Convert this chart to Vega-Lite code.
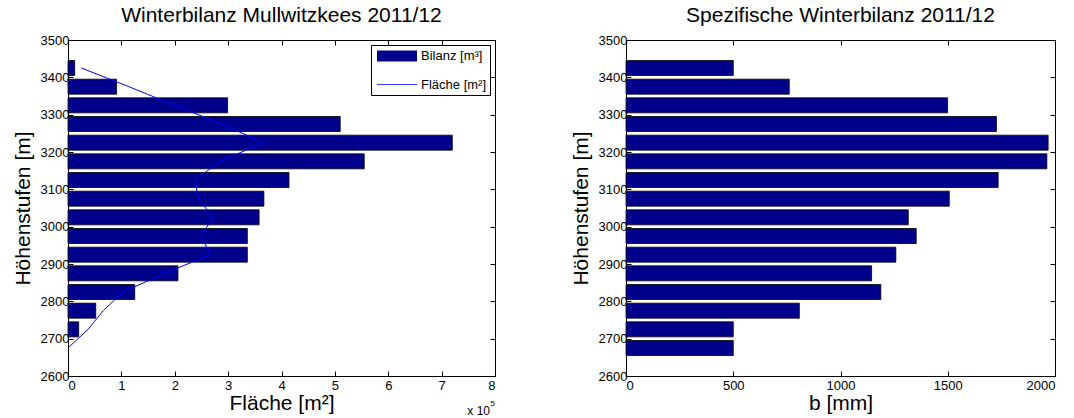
{
  "$schema": "https://vega.github.io/schema/vega-lite/v6.json",
  "padding": {"left": 12, "top": 5, "right": 0, "bottom": 0},
  "background": "white",
  "datasets": {
    "main": [
      {"elev": 2675, "bilanz": null, "flaeche": 0, "b": 500},
      {"elev": 2725, "bilanz": 20000, "flaeche": 37500, "b": 500},
      {"elev": 2775, "bilanz": 52000, "flaeche": 66000, "b": 808},
      {"elev": 2825, "bilanz": 125000, "flaeche": 103000, "b": 1188},
      {"elev": 2875, "bilanz": 206000, "flaeche": 181000, "b": 1145},
      {"elev": 2925, "bilanz": 336000, "flaeche": 267000, "b": 1258},
      {"elev": 2975, "bilanz": 336000, "flaeche": 249000, "b": 1353},
      {"elev": 3025, "bilanz": 358000, "flaeche": 272000, "b": 1316},
      {"elev": 3075, "bilanz": 367000, "flaeche": 244000, "b": 1507},
      {"elev": 3125, "bilanz": 414000, "flaeche": 238000, "b": 1735},
      {"elev": 3175, "bilanz": 555000, "flaeche": 285000, "b": 1962},
      {"elev": 3225, "bilanz": 720000, "flaeche": 366000, "b": 1968},
      {"elev": 3275, "bilanz": 510000, "flaeche": 288000, "b": 1727},
      {"elev": 3325, "bilanz": 299000, "flaeche": 200000, "b": 1499},
      {"elev": 3375, "bilanz": 91000, "flaeche": 114000, "b": 761},
      {"elev": 3425, "bilanz": 12500, "flaeche": 25000, "b": 500}
    ],
    "note": [{"base": "x 10", "exp": "5"}],
    "series": [{"series": "Bilanz [m³]"}, {"series": "Fläche [m²]"}]
  },
  "spacing": 131,
  "bounds": "flush",
  "resolve": {"scale": {"color": "independent", "strokeWidth": "independent"}, "legend": {"color": "independent", "strokeWidth": "independent"}},
  "hconcat": [
    {
      "width": 427,
      "height": 336,
      "title": {"text": "Winterbilanz Mullwitzkees 2011/12", "anchor": "middle", "frame": "group"},
      "resolve": {"axis": {"x": "independent", "y": "independent"}},
      "layer": [
        {
          "data": {"name": "main"},
          "mark": {"type": "bar", "orient": "horizontal", "height": 15, "stroke": "black", "strokeWidth": 0.8, "fill": "#00008b"},
          "encoding": {
            "x": {"field": "bilanz", "type": "quantitative",
              "scale": {"domain": [0, 800000], "nice": false, "padding": 0},
              "axis": {"title": "Fläche [m²]", "values": [0, 100000, 200000, 300000, 400000, 500000, 600000, 700000, 800000], "labelExpr": "format(datum.value/100000, 'd')"}},
            "y": {"field": "elev", "type": "quantitative",
              "scale": {"domain": [2600, 3500], "nice": false, "zero": false, "padding": 0},
              "axis": {"title": "Höhenstufen [m]", "values": [2600, 2700, 2800, 2900, 3000, 3100, 3200, 3300, 3400, 3500], "format": "d"}}
          }
        },
        {
          "data": {"name": "main"},
          "mark": {"type": "line", "strokeWidth": 1, "stroke": "#0000ff"},
          "encoding": {
            "x": {"field": "flaeche", "type": "quantitative", "axis": null},
            "y": {"field": "elev", "type": "quantitative", "axis": null},
            "order": {"field": "elev"}
          }
        },
        {
          "data": {"name": "series"},
          "mark": {"type": "line"},
          "encoding": {
            "x": {"field": "nx", "type": "quantitative", "axis": null},
            "y": {"field": "ny", "type": "quantitative", "axis": null},
            "color": {"field": "series", "type": "ordinal",
              "scale": {"domain": ["Bilanz [m³]", "Fläche [m²]"], "range": ["#00008b", "#3b3bff"]},
              "legend": {
                "orient": "top-right", "title": null, "offset": 5,
                "strokeColor": "black", "fillColor": "white", "padding": 3,
                "labelFontSize": 13, "symbolSize": 25, "rowPadding": -12, "labelOffset": 31,
                "symbolType": "M-2,0H14"
              }},
            "strokeWidth": {"field": "series", "type": "ordinal",
              "scale": {"domain": ["Bilanz [m³]", "Fläche [m²]"], "range": [11, 1]},
              "legend": {
                "orient": "top-right", "title": null, "offset": 5,
                "strokeColor": "black", "fillColor": "white", "padding": 3,
                "labelFontSize": 13, "symbolSize": 25, "rowPadding": -12, "labelOffset": 31,
                "symbolType": "M-2,0H14"
              }}
          }
        },
        {
          "data": {"name": "main"},
          "mark": {"type": "point", "opacity": 0},
          "encoding": {
            "x": {"field": "bilanz", "type": "quantitative", "axis": {"orient": "top", "labels": false, "title": null, "values": [0, 100000, 200000, 300000, 400000, 500000, 600000, 700000, 800000]}},
            "y": {"field": "elev", "type": "quantitative", "axis": {"orient": "right", "labels": false, "title": null, "values": [2600, 2700, 2800, 2900, 3000, 3100, 3200, 3300, 3400, 3500]}}
          }
        },
        {
          "data": {"name": "note"},
          "mark": {"type": "text", "align": "right", "baseline": "middle", "dx": -5, "dy": 35, "fontSize": 12, "color": "black"},
          "encoding": {
            "x": {"datum": 800000, "type": "quantitative", "axis": null},
            "y": {"datum": 2600, "type": "quantitative", "axis": null},
            "text": {"field": "base"}
          }
        },
        {
          "data": {"name": "note"},
          "mark": {"type": "text", "align": "right", "baseline": "middle", "dx": 0, "dy": 28, "fontSize": 8, "color": "black"},
          "encoding": {
            "x": {"datum": 800000, "type": "quantitative", "axis": null},
            "y": {"datum": 2600, "type": "quantitative", "axis": null},
            "text": {"field": "exp"}
          }
        }
      ]
    },
    {
      "width": 429,
      "height": 336,
      "title": {"text": "Spezifische Winterbilanz 2011/12", "anchor": "middle", "frame": "group"},
      "data": {"name": "main"},
      "resolve": {"axis": {"x": "independent", "y": "independent"}},
      "layer": [
        {
          "mark": {"type": "bar", "orient": "horizontal", "height": 15, "stroke": "black", "strokeWidth": 0.8, "fill": "#00008b"},
          "encoding": {
            "x": {"field": "b", "type": "quantitative",
              "scale": {"domain": [0, 2000], "nice": false, "padding": 0},
              "axis": {"title": "b [mm]", "values": [0, 500, 1000, 1500, 2000], "format": "d"}},
            "y": {"field": "elev", "type": "quantitative",
              "scale": {"domain": [2600, 3500], "nice": false, "zero": false, "padding": 0},
              "axis": {"title": "Höhenstufen [m]", "values": [2600, 2700, 2800, 2900, 3000, 3100, 3200, 3300, 3400, 3500], "format": "d"}}
          }
        },
        {
          "mark": {"type": "point", "opacity": 0},
          "encoding": {
            "x": {"field": "b", "type": "quantitative", "axis": {"orient": "top", "labels": false, "title": null, "values": [0, 500, 1000, 1500, 2000]}},
            "y": {"field": "elev", "type": "quantitative", "axis": {"orient": "right", "labels": false, "title": null, "values": [2600, 2700, 2800, 2900, 3000, 3100, 3200, 3300, 3400, 3500]}}
          }
        }
      ]
    }
  ],
  "config": {
    "font": "Liberation Sans",
    "view": {"stroke": null},
    "axis": {
      "domainColor": "black", "domainWidth": 1, "tickColor": "black", "tickSize": -5,
      "labelColor": "black", "labelFontSize": 13,
      "titleColor": "black", "titleFontSize": 21, "titleFontWeight": "normal",
      "grid": false
    },
    "axisY": {"titlePadding": 7, "labelPadding": 4},
    "axisX": {"titlePadding": 0, "labelPadding": 8},
    "title": {"fontSize": 21, "fontWeight": "normal", "color": "black", "offset": 8}
  }
}
